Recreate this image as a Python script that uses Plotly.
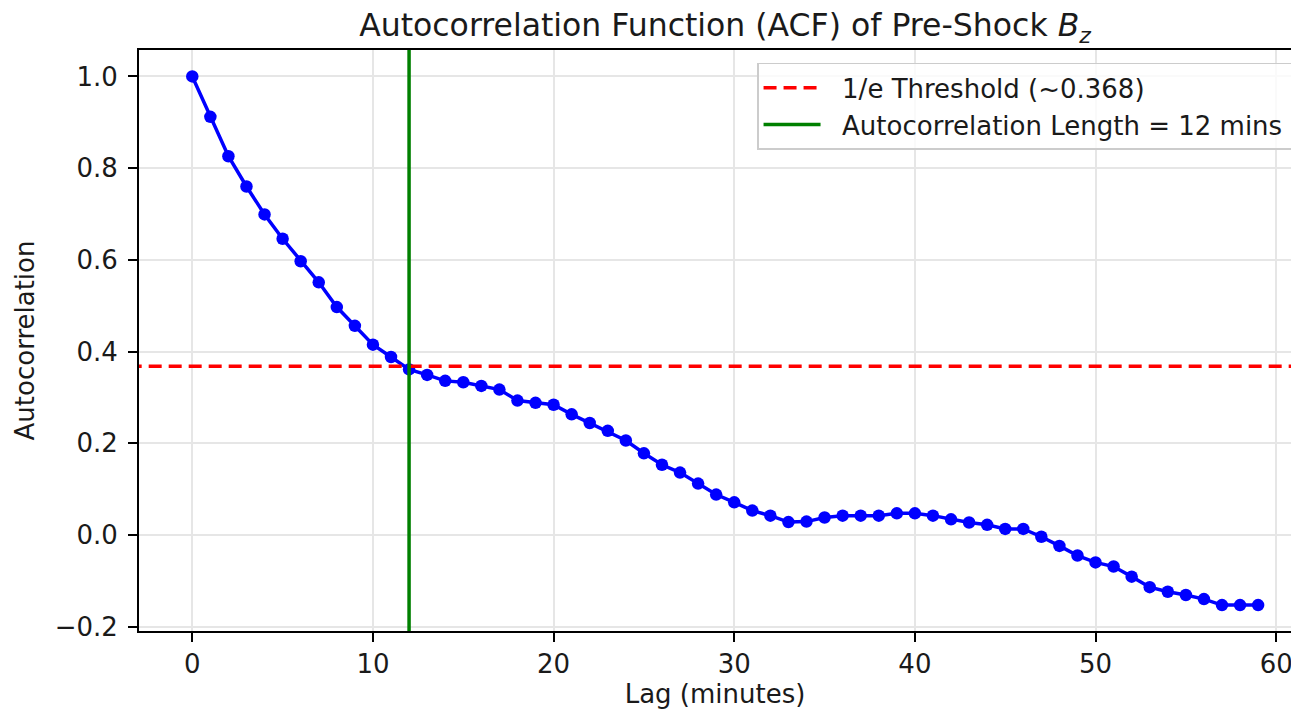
import plotly.graph_objects as go

lags = list(range(60))
acf = [1.000, 0.912, 0.826, 0.760, 0.699, 0.646, 0.597, 0.551, 0.497, 0.456,
       0.415, 0.388, 0.361, 0.349, 0.336, 0.333, 0.325, 0.317, 0.293, 0.288,
       0.284, 0.263, 0.244, 0.227, 0.206, 0.178, 0.153, 0.136, 0.112, 0.088,
       0.071, 0.053, 0.042, 0.028, 0.029, 0.038, 0.042, 0.042, 0.042, 0.047,
       0.047, 0.042, 0.034, 0.027, 0.022, 0.013, 0.013, -0.004, -0.024, -0.045,
       -0.060, -0.069, -0.091, -0.114, -0.124, -0.131, -0.140, -0.153, -0.153, -0.153]
threshold = 0.368
acf_length = 12
x_ticks = [0, 10, 20, 30, 40, 50, 60]
y_ticks = [-0.2, 0.0, 0.2, 0.4, 0.6, 0.8, 1.0]

x_range = [-2.95, 60.82]
y_range = [-0.2096, 1.0577]

FONT = "DejaVu Sans"
TXT = "#1a1a1a"
FS = 26
PAD = "\u00a0\u00a0"

fig = go.Figure()
fig.add_trace(go.Scatter(
    x=lags, y=acf, mode="lines+markers",
    line=dict(color="#0000ff", width=3.5),
    marker=dict(color="#0000ff", size=12.5),
    showlegend=False, cliponaxis=True))
fig.add_trace(go.Scatter(
    x=[x_range[0] - 5, x_range[1] + 5], y=[threshold, threshold], mode="lines",
    line=dict(color="#ff0000", width=3.5, dash="13px,7px"),
    name=PAD + "1/e Threshold (~0.368)", legendgroup="a"))
fig.add_trace(go.Scatter(
    x=[acf_length, acf_length], y=[y_range[0] - 1, y_range[1] + 1], mode="lines",
    line=dict(color="#008000", width=3.5),
    name=PAD + f"Autocorrelation Length = {acf_length} mins" + PAD, legendgroup="b"))

fig.update_layout(
    width=1291, height=710,
    margin=dict(l=139, r=0, t=50, b=79, autoexpand=False),
    paper_bgcolor="white", plot_bgcolor="white",
    font=dict(family=FONT, size=FS, color=TXT),
    title=dict(text="Autocorrelation Function (ACF) of Pre-Shock <i>B<sub>z</sub></i>",
               x=0.5087, xref="paper", xanchor="center",
               y=1 - 25/710, yref="container", yanchor="middle",
               font=dict(family=FONT, size=31.5, color=TXT)),
    showlegend=True,
    legend=dict(x=0.5365, y=0.978, xanchor="left", yanchor="top",
                bgcolor="rgba(255,255,255,0.8)", bordercolor="#cccccc", borderwidth=1.5,
                font=dict(family=FONT, size=FS, color=TXT),
                itemwidth=57, tracegroupgap=0),
)
fig.update_xaxes(
    range=x_range, tickvals=x_ticks, ticktext=[str(v) for v in x_ticks],
    showgrid=True, gridcolor="#e6e6e6", gridwidth=1.5,
    showline=True, linecolor="black", linewidth=1.8, mirror=True,
    ticks="outside", ticklen=9, tickwidth=1.5, tickcolor="black",
    ticklabeloverflow="allow",
    zeroline=False,
    title=dict(text="Lag (minutes)", standoff=6, font=dict(family=FONT, size=FS, color=TXT)))
fig.update_yaxes(
    range=y_range, tickvals=y_ticks, ticktext=["\u22120.2", "0.0", "0.2", "0.4", "0.6", "0.8", "1.0"],
    showgrid=True, gridcolor="#e6e6e6", gridwidth=1.5,
    showline=True, linecolor="black", linewidth=1.8, mirror=False,
    ticks="outside", ticklen=9, tickwidth=1.5, tickcolor="black",
    ticklabelstandoff=5,
    zeroline=False,
    title=dict(text="Autocorrelation", standoff=13, font=dict(family=FONT, size=FS, color=TXT)))

fig.write_html("out.html", config={"displayModeBar": False},
               post_script="document.body.style.margin='0';document.body.style.overflow='hidden';")
